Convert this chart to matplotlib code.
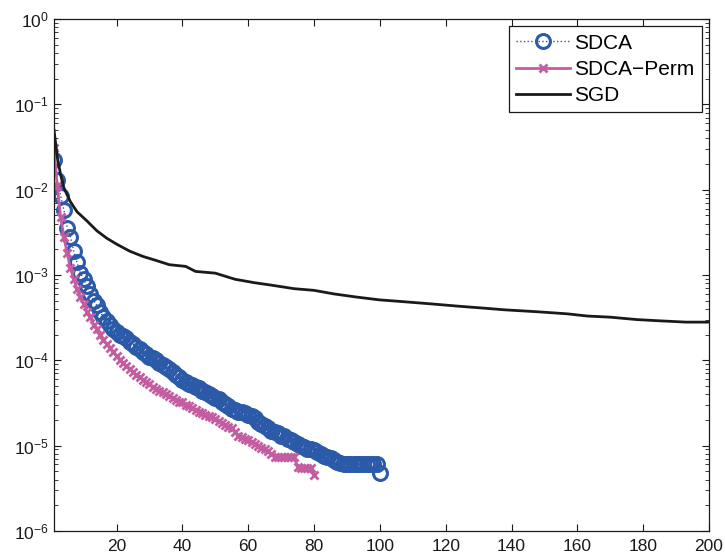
import numpy as np
import matplotlib
matplotlib.use("Agg")
import matplotlib.pyplot as plt
from matplotlib.ticker import LogLocator, NullFormatter, FixedLocator

# ----------------------------------------------------------------------
# Data
# ----------------------------------------------------------------------
sdca_vals = [
    2.2e-2, 1.3e-2, 8.5e-3, 5.8e-3, 3.6e-3, 2.8e-3, 1.9e-3, 1.4e-3, 1.05e-3, 8.9e-4,
    7.4e-4, 6.0e-4, 5.0e-4, 4.4e-4, 3.7e-4, 3.2e-4, 2.9e-4, 2.6e-4, 2.35e-4, 2.15e-4,
    2.0e-4, 1.9e-4, 1.8e-4, 1.65e-4, 1.55e-4, 1.45e-4, 1.35e-4, 1.25e-4, 1.18e-4, 1.1e-4,
    1.05e-4, 1.0e-4, 9.3e-5, 8.7e-5, 8.3e-5, 7.8e-5, 7.3e-5, 6.8e-5, 6.3e-5, 5.9e-5,
    5.6e-5, 5.3e-5, 5.1e-5, 4.9e-5, 4.7e-5, 4.4e-5, 4.3e-5, 4.0e-5, 3.8e-5, 3.6e-5,
    3.5e-5, 3.2e-5, 3.1e-5, 2.9e-5, 2.7e-5, 2.6e-5, 2.5e-5, 2.45e-5, 2.4e-5, 2.3e-5,
    2.2e-5, 2.1e-5, 1.9e-5, 1.8e-5, 1.7e-5, 1.6e-5, 1.5e-5, 1.45e-5, 1.4e-5, 1.3e-5,
    1.3e-5, 1.2e-5, 1.15e-5, 1.1e-5, 1.05e-5, 1.0e-5, 9.6e-6, 9.2e-6, 9.2e-6, 8.8e-6,
    8.4e-6, 8.0e-6, 7.6e-6, 7.4e-6, 7.1e-6, 6.8e-6, 6.5e-6, 6.3e-6, 6.0e-6, 6.0e-6,
    6.0e-6, 6.0e-6, 6.0e-6, 6.0e-6, 6.0e-6, 6.0e-6, 6.0e-6, 6.0e-6, 6.0e-6, 4.8e-6,
]

perm_vals = [
    3.1e-2, 1.1e-2, 4.8e-3, 2.8e-3, 1.8e-3, 1.2e-3, 8.9e-4, 6.9e-4, 5.5e-4, 4.6e-4,
    3.7e-4, 3.2e-4, 2.6e-4, 2.3e-4, 2.0e-4, 1.75e-4, 1.55e-4, 1.4e-4, 1.25e-4, 1.12e-4,
    1.02e-4, 9.3e-5, 8.5e-5, 7.9e-5, 7.2e-5, 6.8e-5, 6.3e-5, 5.9e-5, 5.6e-5, 5.2e-5,
    4.9e-5, 4.6e-5, 4.4e-5, 4.2e-5, 4.0e-5, 3.8e-5, 3.6e-5, 3.4e-5, 3.2e-5, 3.2e-5,
    3.0e-5, 2.9e-5, 2.75e-5, 2.6e-5, 2.5e-5, 2.4e-5, 2.3e-5, 2.2e-5, 2.15e-5, 2.05e-5,
    1.95e-5, 1.85e-5, 1.75e-5, 1.65e-5, 1.6e-5, 1.45e-5, 1.3e-5, 1.25e-5, 1.2e-5, 1.15e-5,
    1.1e-5, 1.05e-5, 9.8e-6, 9.3e-6, 9.1e-6, 8.7e-6, 8.0e-6, 7.4e-6, 7.4e-6, 7.4e-6,
    7.4e-6, 7.4e-6, 7.4e-6, 7.3e-6, 5.6e-6, 5.5e-6, 5.5e-6, 5.5e-6, 5.5e-6, 4.5e-6,
]

sgd_iter = [1, 2, 3, 4, 6, 8, 11, 14, 17, 20, 24, 28, 32, 36, 41, 44, 50, 56, 62,
            67, 74, 80, 86, 93, 100, 106, 115, 124, 131, 138, 148, 157, 163, 170,
            178, 185, 193, 200]
sgd_vals = [5.0e-2, 2.4e-2, 1.5e-2, 1.05e-2, 7.2e-3, 5.5e-3, 4.3e-3, 3.3e-3, 2.7e-3,
            2.3e-3, 1.9e-3, 1.65e-3, 1.48e-3, 1.32e-3, 1.26e-3, 1.1e-3, 1.05e-3,
            8.9e-4, 8.1e-4, 7.6e-4, 6.9e-4, 6.6e-4, 6.0e-4, 5.5e-4, 5.1e-4, 4.9e-4,
            4.6e-4, 4.3e-4, 4.1e-4, 3.9e-4, 3.7e-4, 3.5e-4, 3.3e-4, 3.2e-4, 3.0e-4,
            2.9e-4, 2.8e-4, 2.8e-4]

x_ticks = [20, 40, 60, 80, 100, 120, 140, 160, 180, 200]
y_ticks = [1e-6, 1e-5, 1e-4, 1e-3, 1e-2, 1e-1, 1e0]

sdca_iter = np.arange(1, len(sdca_vals) + 1)
perm_iter = np.arange(1, len(perm_vals) + 1)

# ----------------------------------------------------------------------
# Plot
# ----------------------------------------------------------------------
plt.rcParams['font.family'] = ['Liberation Sans', 'DejaVu Sans']
plt.rcParams['mathtext.fontset'] = 'custom'
plt.rcParams['mathtext.rm'] = 'Liberation Sans'

fig = plt.figure(figsize=(7.25, 5.6), dpi=100)
ax = fig.add_axes([0.0745, 0.052, 0.9035, 0.914])

blue = '#2a5aa8'
pink = '#c45ca2'

ax.plot(sdca_iter, sdca_vals, linestyle=':', color=blue, linewidth=1.0,
        marker='o', markersize=10, markerfacecolor='none',
        markeredgecolor=blue, markeredgewidth=2.2, label='SDCA')
ax.plot(perm_iter, perm_vals, linestyle='-', color=pink, linewidth=2.0,
        marker='x', markersize=5.5, markeredgewidth=2.0, label='SDCA\u2212Perm')
ax.plot(sgd_iter, sgd_vals, '-', color='#1a1a1a', linewidth=2.0, label='SGD')

ax.set_yscale('log')
ax.set_xlim(1, 200)
ax.set_ylim(1e-6, 1e0)
ax.xaxis.set_major_locator(FixedLocator(x_ticks))
ax.yaxis.set_major_locator(FixedLocator(y_ticks))
ax.yaxis.set_minor_locator(LogLocator(base=10, subs=np.arange(2, 10), numticks=10))
ax.yaxis.set_minor_formatter(NullFormatter())

ax.tick_params(which='both', direction='in', top=True, right=True,
               labelsize=12.5, colors='#1a1a1a')
ax.tick_params(axis='x', pad=6)
ax.tick_params(which='major', length=5, width=0.8)
ax.tick_params(which='minor', length=3, width=0.6)
for s in ax.spines.values():
    s.set_color('#1a1a1a')
    s.set_linewidth(0.9)

leg = ax.legend(loc='upper right', fontsize=15, fancybox=False, framealpha=1,
                edgecolor='#1a1a1a', borderpad=0.35, labelspacing=0.35,
                handlelength=2.6, handletextpad=0.2, borderaxespad=0.35)
leg.get_frame().set_linewidth(0.9)

fig.savefig('out.png', dpi=100)
